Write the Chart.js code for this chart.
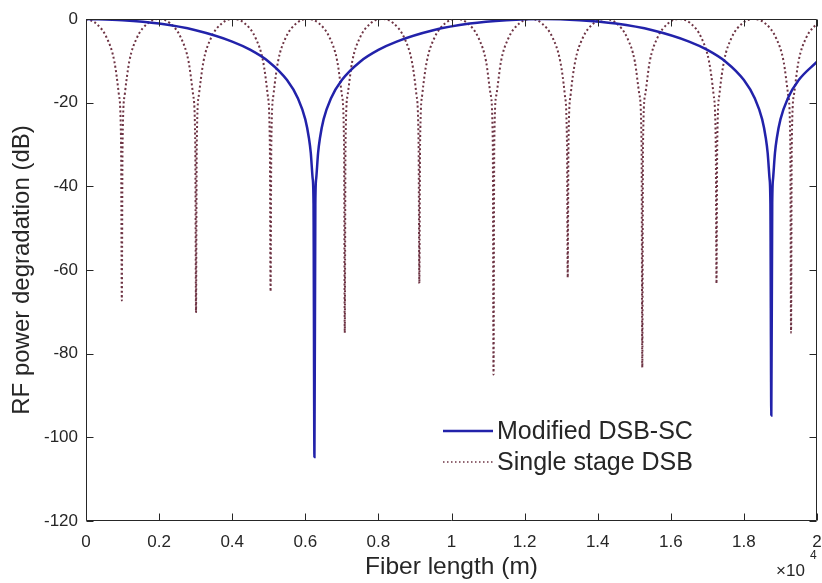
<!DOCTYPE html>
<html><head><meta charset="utf-8">
<script src="https://cdn.jsdelivr.net/npm/chart.js@4/dist/chart.umd.min.js"></script>
<style>html,body{margin:0;padding:0;background:#fff}canvas{display:block}</style>
</head><body>
<canvas id="c" width="822" height="583"></canvas>
<script>
// Fiber length in units of 10^4 m; RF power degradation in dB
const blueX = [0, 0.1, 0.2, 0.3, 0.4, 0.45, 0.5, 0.55, 0.58, 0.60, 0.61, 0.615, 0.62, 0.6225, 0.625, 0.6275, 0.63, 0.635, 0.64, 0.65, 0.67, 0.70, 0.75, 0.8, 0.85, 0.95, 1.05, 1.15, 1.25, 1.35, 1.45, 1.55, 1.65, 1.70, 1.75, 1.80, 1.83, 1.85, 1.86, 1.865, 1.87, 1.8725, 1.875, 1.8775, 1.88, 1.885, 1.89, 1.90, 1.92, 1.95, 2.0];
const blueY = [0, -0.3, -1.1, -2.7, -5.4, -7.4, -10.2, -14.6, -19.0, -24.0, -28.5, -32.0, -38.0, -44.0, -104.7, -44.0, -38.0, -32.0, -28.5, -24.0, -19.0, -14.6, -10.2, -7.4, -5.4, -2.7, -1.1, -0.3, 0, -0.3, -1.1, -2.7, -5.4, -7.4, -10.2, -14.6, -19.0, -24.0, -28.5, -32.0, -38.0, -44.0, -94.8, -44.0, -38.0, -32.0, -28.5, -24.0, -19.0, -14.6, -10.2];

const redX = [
 0, 0.0268, 0.0573, 0.0777, 0.0899, 0.0960, 0.098, 0.1000, 0.1061, 0.1183, 0.1387, 0.1692, 0.1995,
 0.2298, 0.2603, 0.2807, 0.2929, 0.2990, 0.301, 0.3030, 0.3091, 0.3213, 0.3417, 0.3722, 0.403,
 0.4338, 0.4643, 0.4847, 0.4969, 0.5030, 0.505, 0.5070, 0.5131, 0.5253, 0.5457, 0.5762, 0.6065,
 0.6368, 0.6673, 0.6877, 0.6999, 0.7060, 0.708, 0.7100, 0.7161, 0.7283, 0.7487, 0.7792, 0.810,
 0.8408, 0.8713, 0.8917, 0.9039, 0.9100, 0.912, 0.9140, 0.9201, 0.9323, 0.9527, 0.9832, 1.0135,
 1.0438, 1.0743, 1.0947, 1.1069, 1.1130, 1.115, 1.1170, 1.1231, 1.1353, 1.1557, 1.1862, 1.2165,
 1.2468, 1.2773, 1.2977, 1.3099, 1.3160, 1.318, 1.3200, 1.3261, 1.3383, 1.3587, 1.3892, 1.420,
 1.4508, 1.4813, 1.5017, 1.5139, 1.5200, 1.522, 1.5240, 1.5301, 1.5423, 1.5627, 1.5932, 1.6235,
 1.6538, 1.6843, 1.7047, 1.7169, 1.7230, 1.725, 1.7270, 1.7331, 1.7453, 1.7657, 1.7962, 1.827,
 1.8578, 1.8883, 1.9087, 1.9209, 1.9270, 1.929, 1.9310, 1.9371, 1.9493, 1.9697, 2.0
];
const redY = [
 0, -1.0, -4.6, -10.2, -18.0, -30.1, -67.3, -30.1, -18.0, -10.2, -4.6, -1.0, 0,
 -1.0, -4.6, -10.2, -18.0, -30.1, -70.2, -30.1, -18.0, -10.2, -4.6, -1.0, 0,
 -1.0, -4.6, -10.2, -18.0, -30.1, -65.1, -30.1, -18.0, -10.2, -4.6, -1.0, 0,
 -1.0, -4.6, -10.2, -18.0, -30.1, -75.0, -30.1, -18.0, -10.2, -4.6, -1.0, 0,
 -1.0, -4.6, -10.2, -18.0, -30.1, -63.2, -30.1, -18.0, -10.2, -4.6, -1.0, 0,
 -1.0, -4.6, -10.2, -18.0, -30.1, -85.0, -30.1, -18.0, -10.2, -4.6, -1.0, 0,
 -1.0, -4.6, -10.2, -18.0, -30.1, -61.8, -30.1, -18.0, -10.2, -4.6, -1.0, 0,
 -1.0, -4.6, -10.2, -18.0, -30.1, -83.3, -30.1, -18.0, -10.2, -4.6, -1.0, 0,
 -1.0, -4.6, -10.2, -18.0, -30.1, -63.2, -30.1, -18.0, -10.2, -4.6, -1.0, 0,
 -1.0, -4.6, -10.2, -18.0, -30.1, -75.0, -30.1, -18.0, -10.2, -4.6, -1.0
];

const xTicks = [0, 0.2, 0.4, 0.6, 0.8, 1, 1.2, 1.4, 1.6, 1.8, 2];
const yTicks = [-120, -100, -80, -60, -40, -20, 0];
const seriesLabels = ['Modified DSB-SC', 'Single stage DSB'];
const xTitle = 'Fiber length (m)';
const yTitle = 'RF power degradation (dB)';
const xExponent = '4';

const FONT = '"Liberation Sans", Arial, Helvetica, sans-serif';
const TXT = '#262626';
const BLUE = '#2222aa';
const RED = '#6e3444';
const toPts = (xs, ys) => xs.map((x, i) => ({x: x, y: ys[i]}));

const framePlugin = {
  id: 'frame',
  afterDraw(chart) {
    const {ctx, chartArea: a, scales: {x, y}} = chart;
    const L = Math.round(a.left) + 0.5, R = Math.round(a.right) - 0.5;
    const T = Math.round(a.top) + 0.5, B = Math.round(a.bottom) - 0.5;
    ctx.save();
    ctx.strokeStyle = TXT; ctx.lineWidth = 1;
    ctx.beginPath();
    ctx.rect(L, T, R - L, B - T);
    const tl = 7;
    xTicks.forEach(v => {
      const px = Math.round(x.getPixelForValue(v)) + 0.5;
      ctx.moveTo(px, B); ctx.lineTo(px, B - tl);
      ctx.moveTo(px, T); ctx.lineTo(px, T + tl);
    });
    yTicks.forEach(v => {
      const py = Math.round(y.getPixelForValue(v)) + 0.5;
      ctx.moveTo(L, py); ctx.lineTo(L + tl, py);
      ctx.moveTo(R, py); ctx.lineTo(R - tl, py);
    });
    ctx.stroke();

    // exponent label
    ctx.fillStyle = TXT;
    ctx.textBaseline = 'middle';
    ctx.textAlign = 'left';
    ctx.font = '17px ' + FONT;
    ctx.fillText('\u00d710', 776, 571);
    ctx.font = '12px ' + FONT;
    ctx.fillText(xExponent, 810, 556);

    // legend
    const lx0 = 443, lx1 = 493, ly = [431, 462];
    ctx.lineWidth = 2.5; ctx.strokeStyle = BLUE; ctx.setLineDash([]);
    ctx.beginPath(); ctx.moveTo(lx0, ly[0]); ctx.lineTo(lx1, ly[0]); ctx.stroke();
    ctx.lineWidth = 1.5; ctx.strokeStyle = RED; ctx.setLineDash([1.5, 2.5]);
    ctx.beginPath(); ctx.moveTo(lx0, ly[1]); ctx.lineTo(lx1, ly[1]); ctx.stroke();
    ctx.setLineDash([]);
    ctx.font = '25px ' + FONT;
    ctx.fillStyle = TXT;
    ctx.fillText(seriesLabels[0], 497, ly[0] + 1);
    ctx.fillText(seriesLabels[1], 497, ly[1] + 1);
    ctx.restore();
  }
};

new Chart(document.getElementById('c'), {
  type: 'line',
  data: {
    datasets: [
      {label: seriesLabels[0], data: toPts(blueX, blueY), borderColor: BLUE, borderWidth: 2.5,
       pointRadius: 0, cubicInterpolationMode: 'monotone', fill: false},
      {label: seriesLabels[1], data: toPts(redX, redY), borderColor: RED, borderWidth: 2,
       borderDash: [2, 2.5], pointRadius: 0, cubicInterpolationMode: 'monotone', fill: false}
    ]
  },
  options: {
    responsive: false,
    animation: false,
    layout: {padding: {top: 19, right: 5, left: 0, bottom: 0}},
    plugins: {legend: {display: false}, tooltip: {enabled: false}},
    scales: {
      x: {
        type: 'linear', min: 0, max: 2,
        afterBuildTicks: s => { s.ticks = xTicks.map(v => ({value: v})); },
        ticks: {font: {family: FONT, size: 17}, color: TXT, padding: 11, maxRotation: 0, autoSkip: false,
                callback: v => String(v)},
        grid: {display: false, drawTicks: false},
        border: {display: false},
        title: {display: true, text: xTitle, font: {family: FONT, size: 24.5}, color: TXT, padding: {top: 0, bottom: 1}},
        afterFit: s => { s.height = 62; s.paddingLeft = 0; s.paddingRight = 0; }
      },
      y: {
        type: 'linear', min: -120, max: 0,
        afterBuildTicks: s => { s.ticks = yTicks.map(v => ({value: v})); },
        ticks: {font: {family: FONT, size: 17}, color: TXT, padding: 8, callback: v => String(v)},
        grid: {display: false, drawTicks: false},
        border: {display: false},
        title: {display: true, text: yTitle, font: {family: FONT, size: 24}, color: TXT, padding: {top: 8, bottom: 0}},
        afterFit: s => { s.width = 86; s.paddingTop = 0; s.paddingBottom = 0; }
      }
    }
  },
  plugins: [framePlugin]
});
</script>
</body></html>
